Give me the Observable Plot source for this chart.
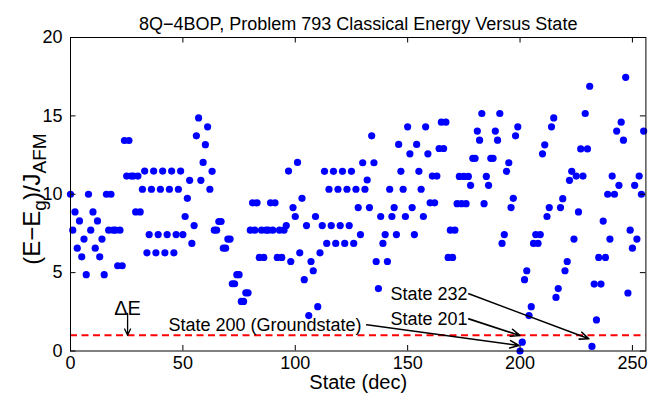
<!DOCTYPE html>
<html><head><meta charset="utf-8">
<script src="https://cdn.jsdelivr.net/npm/d3@7"></script>
<script src="https://cdn.jsdelivr.net/npm/@observablehq/plot@0.6"></script>
<style>
body{margin:0;background:#fff;}
svg{font-family:"Liberation Sans",Arial,Helvetica,sans-serif;}
</style></head><body><div id="chart"></div>
<script>
// Energy (E-Eg)/J_AFM for each state 0..255
const energy = [
 10.0,7.71,8.87,6.56,8.30,6.01,7.14,4.87, 10.0,7.71,8.87,6.56,8.30,6.01,7.14,4.87,
 10.0,7.71,10.0,7.71,7.71,5.44,7.71,5.44, 13.43,11.16,13.43,11.16,11.16,8.87,11.16,8.87,
 10.32,11.48,6.26,7.43,10.32,11.48,6.26,7.43, 10.32,11.48,6.26,7.43,10.32,11.48,6.26,7.43,
 10.32,11.48,7.43,8.58,9.74,10.89,6.86,8.0, 13.73,14.87,10.89,12.03,13.16,14.3,10.32,11.46,
 7.71,7.71,8.26,8.26,6.56,6.56,7.14,7.14, 4.29,4.29,4.87,4.87,3.16,3.16,3.71,3.71,
 7.71,9.45,7.71,9.45,5.97,7.71,5.97,7.71, 7.71,9.45,7.71,9.45,5.97,7.71,5.97,7.71,
 8.0,11.48,5.71,9.15,8.58,12.03,6.26,9.74, 4.55,8.0,2.26,5.71,5.12,8.58,2.83,6.26,
 8.0,11.46,6.86,10.32,8.0,11.46,6.86,10.32, 8.0,11.46,6.86,10.32,8.0,11.46,6.86,10.32,
 9.15,7.43,12.01,10.32,10.91,9.15,13.73,12.01, 5.71,3.98,8.58,6.86,7.43,5.71,10.32,8.58,
 9.15,7.43,13.18,11.46,10.32,8.58,14.3,12.58, 9.15,7.43,13.18,11.46,10.32,8.58,14.3,12.58,
 9.45,11.16,9.45,11.16,12.92,14.6,12.92,14.6, 5.97,7.71,5.97,7.71,9.4,11.14,9.4,11.14,
 9.4,11.14,10.57,12.29,12.29,14.03,13.45,15.15, 9.4,11.14,10.57,12.29,12.29,14.03,13.45,15.15,
 6.86,7.43,11.46,12.01,9.15,9.74,13.73,14.3, 0.0,0.56,4.55,5.12,2.26,2.83,6.86,7.43,
 6.86,7.43,12.58,13.15,8.58,9.15,14.3,14.87, 3.42,3.98,9.15,9.72,5.12,5.71,10.89,11.46,
 7.14,11.16,8.87,12.89,11.16,15.15,12.89,16.89, 0.29,4.27,1.98,5.97,4.27,8.29,5.97,10.0,
 7.14,11.16,10.0,14.03,10.57,14.6,13.45,17.46, 3.7,7.71,6.56,10.57,7.14,11.16,10.0,14.03
];
const xTicks = [0, 50, 100, 150, 200, 250];
const yTicks = [0, 5, 10, 15, 20];
const gapLevel = [1];
const titleText = ["8Q\u22124BOP, Problem 793 Classical Energy Versus State"];
const xLabelText = ["State (dec)"];
const noteLabels = [
  {text: "State 200 (Groundstate)", x: 43.6, y: 1.63},
  {text: "State 201", x: 142.4, y: 2.05},
  {text: "State 232", x: 142.4, y: 3.59}
];
const noteArrows = [
  {x1: 131.8, y1: 1.67, x2: 199.5, y2: 0.35},
  {x1: 177.2, y1: 2.05, x2: 199.9, y2: 0.99},
  {x1: 177.2, y1: 3.65, x2: 230.6, y2: 0.78}
];
const deltaLabel = [{text: "\u0394E", x: 25.4, y: 2.7}];
const deltaArrow = [{x1: 25.4, y1: 2.4, x2: 25.4, y2: 1.0}];

const W = 649, H = 397, mL = 70, mR = 3.6, mT = 37, mB = 46.5;
const fw = W - mL - mR, fh = H - mT - mB, tk = 5.5;
const pts = energy.map((e, i) => ({state: i, energy: e}));

const chart = Plot.plot({
  width: W, height: H,
  marginLeft: mL, marginRight: mR, marginTop: mT, marginBottom: mB,
  style: {fontFamily: "'Liberation Sans', Arial, Helvetica, sans-serif", fontSize: "18px", background: "white", color: "black"},
  x: {domain: [0, 256]},
  y: {domain: [0, 20]},
  marks: [
    Plot.dot(pts, {x: "state", y: "energy", r: 3.6, fill: "#0000ff", stroke: null}),
    Plot.ruleY(gapLevel, {stroke: "#ff0000", strokeWidth: 2, strokeDasharray: "7,4.5"}),
    Plot.frame({stroke: "black", strokeWidth: 1}),
    Plot.ruleX(xTicks, {x: d => d, insetTop: fh - tk, stroke: "black"}),
    Plot.ruleX(xTicks, {x: d => d, insetBottom: fh - tk, stroke: "black"}),
    Plot.ruleY(yTicks, {y: d => d, insetRight: fw - tk, stroke: "black"}),
    Plot.ruleY(yTicks, {y: d => d, insetLeft: fw - tk, stroke: "black"}),
    Plot.axisX({ticks: xTicks, tickSize: 0, tickPadding: 5, label: null, fontSize: 18}),
    Plot.axisY({ticks: yTicks, tickSize: 0, tickPadding: 8, label: null, fontSize: 18}),
    Plot.text(titleText, {text: d => d, frameAnchor: "top", dy: -20, fontSize: 18}),
    Plot.text(xLabelText, {text: d => d, frameAnchor: "bottom", dy: 37.5, fontSize: 20}),
    Plot.arrow(noteArrows, {x1: "x1", y1: "y1", x2: "x2", y2: "y2", stroke: "black", strokeWidth: 1.6, headLength: 9, headAngle: 45}),
    Plot.text(noteLabels, {x: "x", y: "y", text: "text", textAnchor: "start", fontSize: 18}),
    Plot.arrow(deltaArrow, {x1: "x1", y1: "y1", x2: "x2", y2: "y2", stroke: "black", strokeWidth: 1.3, headLength: 8, headAngle: 50}),
    Plot.text(deltaLabel, {x: "x", y: "y", text: "text", fontSize: 20})
  ]
});

// y-axis label with subscripts
const svg = d3.select(chart);
const yl = svg.append("text")
  .attr("transform", "translate(40,199) rotate(-90)")
  .attr("text-anchor", "middle")
  .attr("font-size", 24)
  .attr("fill", "black");
yl.append("tspan").text("(E\u2212E");
yl.append("tspan").attr("font-size", 19).attr("dy", 6).text("g");
yl.append("tspan").attr("dy", -6).text(")/J");
yl.append("tspan").attr("font-size", 19).attr("dy", 6).text("AFM");

document.getElementById("chart").appendChild(chart);
</script>
</body></html>
